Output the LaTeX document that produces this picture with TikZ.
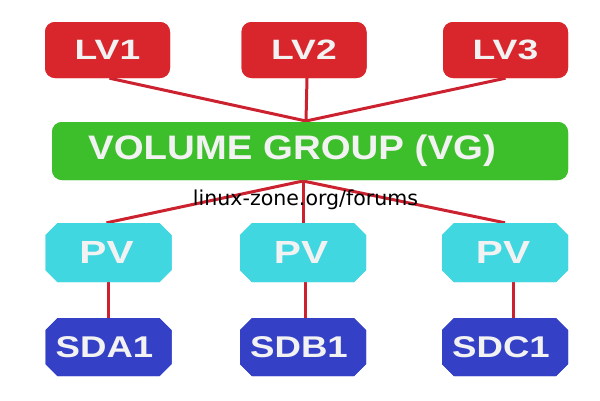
\documentclass[tikz,border=0pt]{standalone}
\usepackage{graphicx}
\usepackage{fontspec}
\setmainfont{Liberation Sans}
\newfontfamily\wmfont{DejaVu Sans}
\usetikzlibrary{shapes.misc}
\definecolor{lvred}{HTML}{D8262C}
\definecolor{linered}{HTML}{CC2230}
\definecolor{vggreen}{HTML}{3DBE2B}
\definecolor{pvcyan}{HTML}{40D7E1}
\definecolor{sdblue}{HTML}{3440C6}
\definecolor{txt}{HTML}{F2F2F2}
\newcommand\wtext[2]{\scalebox{#1}[1]{#2}}
\tikzset{
  lvbox/.style={fill=lvred, rounded corners=10pt, minimum width=125pt, minimum height=56pt, text=txt, font=\bfseries\fontsize{28}{30}\selectfont, inner sep=0pt},
  vgbox/.style={fill=vggreen, rounded corners=10pt, minimum width=516pt, minimum height=58pt, text=txt, font=\bfseries\fontsize{34}{36}\selectfont, inner sep=0pt},
  pvbox/.style={chamfered rectangle, chamfered rectangle xsep=6pt, chamfered rectangle ysep=6pt, fill=pvcyan, minimum width=126pt, minimum height=59pt, text=txt, font=\bfseries\fontsize{32}{34}\selectfont, inner sep=0pt},
  sdbox/.style={chamfered rectangle, chamfered rectangle xsep=6pt, chamfered rectangle ysep=6pt, fill=sdblue, minimum width=126pt, minimum height=58pt, text=txt, font=\bfseries\fontsize{30}{32}\selectfont, inner sep=0pt},
  link/.style={draw=linered, line width=3pt},
}
\begin{document}
\begin{tikzpicture}[x=1pt,y=-1pt]
\useasboundingbox (0,0) rectangle (600,400);
\fill[white] (0,0) rectangle (600,400);
% connector anchors
\coordinate (vgtop) at (306,121);
\coordinate (vgbot) at (303,181);
% connectors (drawn first, boxes on top)
\path (107.5,50) coordinate (plv1) (303,50) coordinate (plv2) (505.5,50) coordinate (plv3);
\node[lvbox] (lv1) at (107.5,50) {\wtext{1.33}{LV1}};
\node[lvbox] (lv2) at (304,50) {\wtext{1.33}{LV2}};
\node[lvbox] (lv3) at (505.5,50) {\wtext{1.33}{LV3}};
\node[vgbox] (vg) at (310,151) {\wtext{1.13}{VOLUME GROUP (VG)}\hspace*{36pt}};
\node[pvbox] (pv1) at (108.5,252.5) {\wtext{1.27}{PV}\hspace*{4pt}};
\node[pvbox] (pv2) at (303,252.5) {\wtext{1.27}{PV}\hspace*{4pt}};
\node[pvbox] (pv3) at (505,252.5) {\wtext{1.27}{PV}\hspace*{4pt}};
\node[sdbox] (sd1) at (108.5,347) {\wtext{1.22}{SDA1}\hspace*{8pt}};
\node[sdbox] (sd2) at (303,347) {\wtext{1.22}{SDB1}\hspace*{8pt}};
\node[sdbox] (sd3) at (505,347) {\wtext{1.22}{SDC1}\hspace*{8pt}};
\begin{scope}
\draw[link] ([xshift=2pt]lv1.south) -- (vgtop);
\draw[link] ([xshift=3pt]lv2.south) -- (vgtop);
\draw[link] (lv3.south) -- (vgtop);
\draw[link] (vgbot) -- ([xshift=-2pt]pv1.north);
\draw[link] (vgbot) -- (pv2.north);
\draw[link] (vgbot) -- (pv3.north);
\draw[link] (pv1.south) -- (sd1.north);
\draw[link] ([xshift=2pt]pv2.south) -- ([xshift=2pt]sd2.north);
\draw[link] ([xshift=8pt]pv3.south) -- ([xshift=8pt]sd3.north);
\end{scope}
% boxes again over line ends
\node[lvbox] at (lv1) {\wtext{1.33}{LV1}};
\node[lvbox] at (lv2) {\wtext{1.33}{LV2}};
\node[lvbox] at (lv3) {\wtext{1.33}{LV3}};
\node[vgbox] at (vg) {\wtext{1.13}{VOLUME GROUP (VG)}\hspace*{36pt}};
\node[pvbox] at (pv1) {\wtext{1.27}{PV}\hspace*{4pt}};
\node[pvbox] at (pv2) {\wtext{1.27}{PV}\hspace*{4pt}};
\node[pvbox] at (pv3) {\wtext{1.27}{PV}\hspace*{4pt}};
\node[sdbox] at (sd1) {\wtext{1.22}{SDA1}\hspace*{8pt}};
\node[sdbox] at (sd2) {\wtext{1.22}{SDB1}\hspace*{8pt}};
\node[sdbox] at (sd3) {\wtext{1.22}{SDC1}\hspace*{8pt}};
\node[text=black, inner sep=0pt] (wm) at (305.5,200) {\resizebox{225pt}{!}{\wmfont linux-zone.org/forums}};
\end{tikzpicture}
\end{document}
